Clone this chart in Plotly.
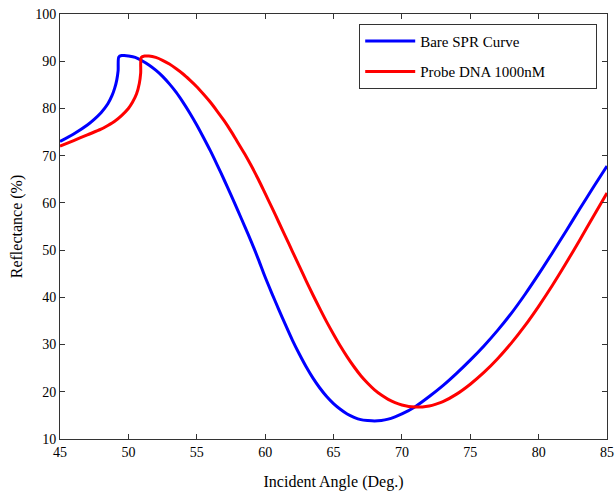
import plotly.graph_objects as go

# Bare SPR curve
bare_angle = [45, 46, 47, 47.5, 48, 48.5, 48.8, 49.0, 49.15, 49.25, 49.3, 49.5, 49.7, 50, 50.5,
              51, 51.5, 52, 52.5, 53, 53.5, 54, 54.5, 55, 55.5, 56, 56.5, 57, 57.5, 58, 58.5,
              59, 59.5, 60, 60.5, 61, 61.5, 62, 62.5, 63, 63.5, 64, 64.5, 65, 65.5, 66, 66.5,
              67, 67.5, 68, 68.5, 69, 69.5, 70, 71, 72, 73, 74, 75, 76, 77, 78, 79, 80, 81,
              82, 83, 84, 85]
bare_refl = [73.0, 74.6, 76.5, 77.7, 79.1, 81.0, 82.7, 84.3, 86.0, 88.0, 90.9, 91.2, 91.2, 91.1, 90.8,
             90.1, 89.2, 88.1, 86.8, 85.2, 83.4, 81.3, 79.0, 76.5, 73.8, 71.0, 68.0, 64.9, 61.7, 58.4, 55.1,
             51.7, 48.1, 44.3, 40.8, 37.4, 34.1, 30.9, 28.0, 25.3, 22.9, 20.8, 19.0, 17.5, 16.3, 15.3, 14.6,
             14.1, 13.9, 13.8, 13.9, 14.2, 14.7, 15.3, 16.9, 19.0, 21.3, 23.9, 26.7, 29.7, 33.0, 36.6, 40.6, 44.9, 49.4,
             54.0, 58.7, 63.3, 67.8]

# Probe DNA 1000nM
probe_angle = [45, 46, 47, 48, 48.5, 49, 49.5, 50, 50.3, 50.6, 50.8, 50.9, 50.95, 51.2, 51.5,
               52, 52.5, 53, 53.5, 54, 54.5, 55, 55.5, 56, 56.5, 57, 57.5, 58, 58.5, 59, 59.5,
               60, 60.5, 61, 61.5, 62, 62.5, 63, 63.5, 64, 64.5, 65, 65.5, 66, 66.5, 67, 67.5,
               68, 68.5, 69, 69.5, 70, 70.5, 71, 71.5, 72, 72.5, 73, 74, 75, 76, 77, 78, 79,
               80, 81, 82, 83, 84, 85]
probe_refl = [72.0, 73.2, 74.4, 75.6, 76.4, 77.3, 78.5, 80.0, 81.3, 83.1, 85.3, 87.5, 90.8, 91.1, 91.1,
              90.8, 90.2, 89.4, 88.4, 87.3, 86.0, 84.6, 83.0, 81.3, 79.4, 77.4, 75.2, 72.8, 70.4, 67.8, 65.0,
              62.0, 59.0, 55.9, 52.8, 49.7, 46.6, 43.5, 40.5, 37.6, 34.8, 32.2, 29.7, 27.4, 25.3, 23.4, 21.8,
              20.4, 19.3, 18.4, 17.7, 17.2, 16.9, 16.8, 16.8, 17.0, 17.4, 17.9, 19.5, 21.6, 24.1, 27.0, 30.3, 34.0,
              38.1, 42.5, 47.2, 52.1, 57.1, 62.1]

series_names = ["Bare SPR Curve", "Probe DNA 1000nM"]

x_ticks = [45, 50, 55, 60, 65, 70, 75, 80, 85]
y_ticks = [10, 20, 30, 40, 50, 60, 70, 80, 90, 100]

FONT = "Liberation Serif"
PAD = "\u00a0" * 12  # widens the legend box like the reference

fig = go.Figure()
fig.add_trace(go.Scatter(x=bare_angle, y=bare_refl, mode="lines", name=series_names[0],
                         line=dict(color="#0000ff", width=3, shape="spline", smoothing=0.8),
                         legendgroup="a"))
fig.add_trace(go.Scatter(x=probe_angle, y=probe_refl, mode="lines", name=series_names[1] + PAD,
                         line=dict(color="#ff0000", width=3, shape="spline", smoothing=0.8),
                         legendgroup="b"))

axis_common = dict(
    showline=True, linecolor="#333333", linewidth=1, mirror="ticks",
    ticks="inside", ticklen=5, tickcolor="#333333", showgrid=False, zeroline=False,
    tickfont=dict(family=FONT, size=14, color="black"), automargin=False,
    ticklabeloverflow="allow",
)

fig.update_layout(
    width=616, height=493,
    paper_bgcolor="white", plot_bgcolor="white",
    margin=dict(l=60, r=9, t=14, b=54),
    font=dict(family=FONT, color="black"),
    xaxis=dict(range=[45, 85], tickvals=x_ticks, ticktext=[str(v) for v in x_ticks],
               title=dict(text="Incident Angle (Deg.)", font=dict(family=FONT, size=16), standoff=17),
               **axis_common),
    yaxis=dict(range=[10, 100], tickvals=y_ticks, ticktext=[str(v) for v in y_ticks],
               title=dict(text="Reflectance (%)", font=dict(family=FONT, size=16), standoff=8),
               **axis_common),
    legend=dict(x=0.547, y=0.977, xanchor="left", yanchor="top",
                bgcolor="white", bordercolor="#333333", borderwidth=1,
                font=dict(family=FONT, size=15, color="black"),
                tracegroupgap=8, itemwidth=50),
    showlegend=True,
)

fig.write_html("out.html", config={"displayModeBar": False},
               post_script="document.body.style.margin='0';document.body.style.overflow='hidden';")
